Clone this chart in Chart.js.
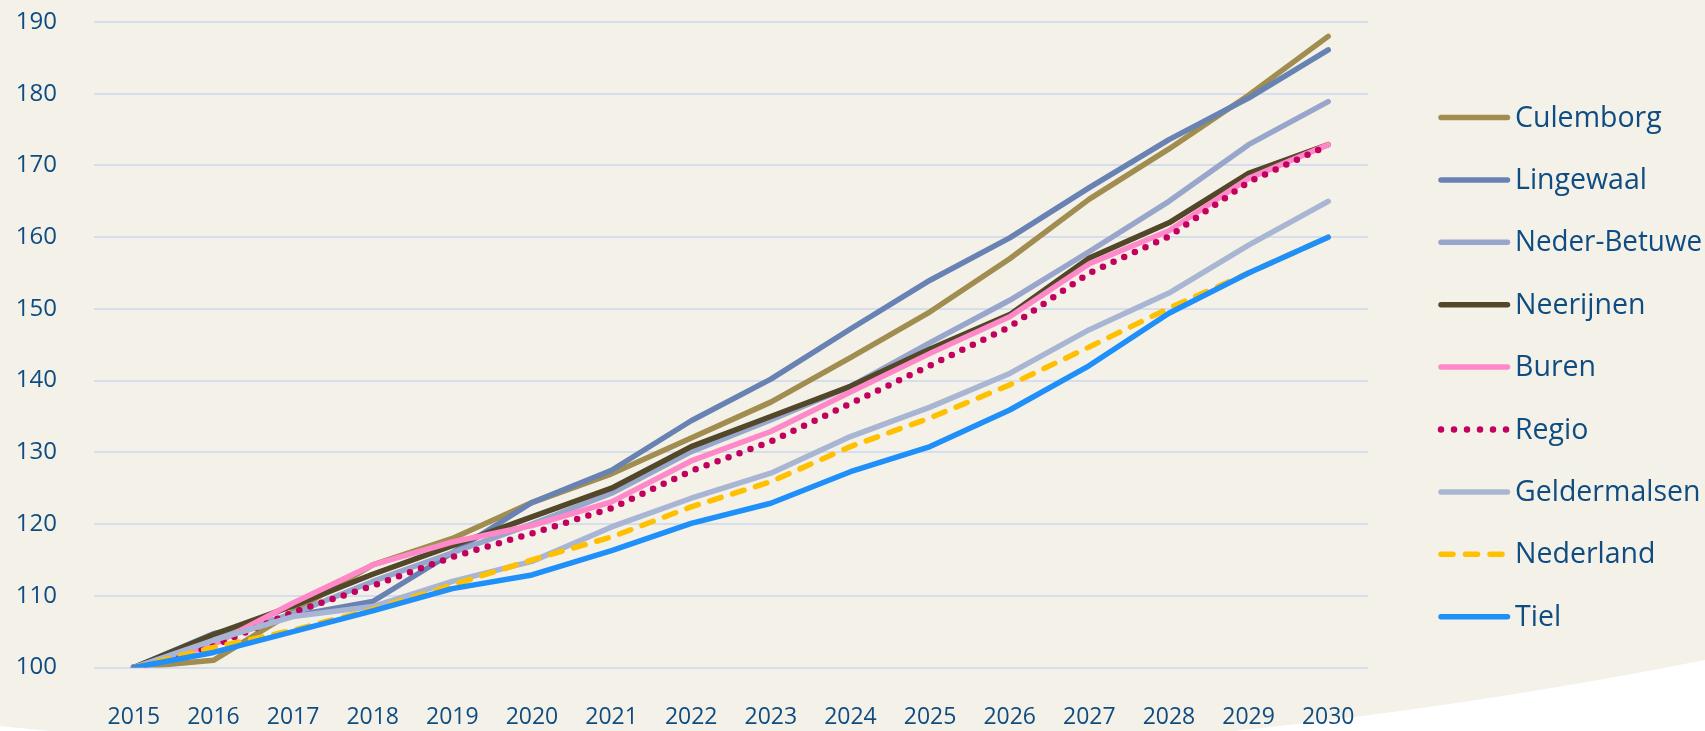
<!DOCTYPE html>
<html>
<head>
<meta charset="utf-8">
<script src="https://cdn.jsdelivr.net/npm/chart.js@4/dist/chart.umd.min.js"></script>
<style>
  html, body { margin: 0; padding: 0; background: #ffffff; }
  #wrap { width: 1705px; height: 731px; position: relative; }
</style>
</head>
<body>
<div id="wrap"><canvas id="c" width="1705" height="731"></canvas></div>
<script>
const years = ['2015','2016','2017','2018','2019','2020','2021','2022','2023','2024','2025','2026','2027','2028','2029','2030'];
const yTicks = [100, 110, 120, 130, 140, 150, 160, 170, 180, 190];

const culemborg    = [100, 101.0, 107.8, 114.3, 118.0, 123.0, 127.0, 132.0, 137.0, 143.2, 149.6, 157.0, 165.3, 172.3, 179.8, 188.0];
const lingewaal    = [100, 104.7, 107.2, 109.2, 116.0, 123.0, 127.5, 134.4, 140.2, 147.2, 154.0, 159.9, 166.9, 173.6, 179.4, 186.1];
const nederBetuwe  = [100, 104.1, 107.5, 112.0, 116.0, 120.0, 124.3, 130.1, 134.5, 139.2, 145.3, 151.2, 158.0, 165.0, 172.9, 178.9];
const neerijnen    = [100, 104.6, 108.6, 113.0, 117.0, 121.0, 125.0, 130.8, 135.0, 139.2, 144.4, 149.2, 157.1, 162.0, 168.9, 172.9];
const buren        = [100, 103.2, 109.0, 114.3, 117.5, 119.8, 123.1, 128.8, 132.9, 138.4, 143.8, 148.9, 156.3, 160.9, 168.2, 172.9];
const regio        = [100, 103.0, 107.7, 111.4, 115.4, 118.7, 122.2, 127.4, 131.5, 136.8, 142.1, 147.5, 155.0, 160.1, 167.7, 172.8];
const geldermalsen = [100, 103.8, 107.1, 108.5, 112.0, 114.8, 119.6, 123.6, 127.1, 132.2, 136.3, 141.0, 147.1, 152.2, 158.9, 165.0];
const nederland    = [100, 102.8, 105.2, 108.1, 111.5, 115.0, 118.2, 122.4, 125.9, 130.8, 134.8, 139.4, 144.7, 150.1, 155.0, 160.0];
const tiel         = [100, 102.1, 105.0, 107.9, 111.0, 112.9, 116.3, 120.1, 122.9, 127.3, 130.8, 135.9, 142.1, 149.4, 155.0, 160.0];

const seriesNames = ['Culemborg','Lingewaal','Neder-Betuwe','Neerijnen','Buren','Regio','Geldermalsen','Nederland','Tiel'];
const seriesData  = [culemborg, lingewaal, nederBetuwe, neerijnen, buren, regio, geldermalsen, nederland, tiel];
const seriesColors = ['#a18d50','#6882b4','#99a6cc','#524829','#ff88c8','#c2005e','#a8b5d3','#ffc000','#1f8ffa'];

const TEXT = '#0f4c81';
const FONT = "'Open Sans', 'Noto Sans', sans-serif";

const datasets = seriesNames.map((name, i) => {
  const ds = {
    label: name,
    data: seriesData[i],
    borderColor: seriesColors[i],
    backgroundColor: seriesColors[i],
    borderWidth: 5.5,
    pointRadius: 0,
    pointHoverRadius: 0,
    tension: 0,
    fill: false,
    borderCapStyle: 'round',
    borderJoinStyle: 'round',
    order: seriesNames.length - i
  };
  if (name === 'Regio') { ds.borderDash = [0, 11.7]; ds.borderWidth = 6.5; }
  if (name === 'Nederland') { ds.borderDash = [12, 12]; }
  return ds;
});

const bgPlugin = {
  id: 'bg',
  beforeDraw(chart) {
    const ctx = chart.ctx;
    ctx.save();
    ctx.fillStyle = '#ffffff';
    ctx.fillRect(0, 0, chart.width, chart.height);
    ctx.fillStyle = '#f4f1e9';
    ctx.beginPath();
    ctx.moveTo(0, 0);
    ctx.lineTo(chart.width, 0);
    ctx.lineTo(chart.width, 660);
    ctx.quadraticCurveTo(900, 820, 0, 726);
    ctx.closePath();
    ctx.fill();
    ctx.restore();
  }
};

const legendPlugin = {
  id: 'sideLegend',
  afterDraw(chart) {
    const ctx = chart.ctx;
    ctx.save();
    const x0 = 1441, x1 = 1507.5, tx = 1515, y0 = 117.5, dy = 62.4;
    chart.data.datasets.forEach((ds, i) => {
      const y = y0 + i * dy;
      ctx.strokeStyle = ds.borderColor;
      ctx.lineWidth = ds.label === 'Regio' ? 6.5 : 5.5;
      ctx.lineCap = 'round';
      if (ds.label === 'Regio') { ctx.setLineDash([0, 13]); }
      else if (ds.label === 'Nederland') { ctx.setLineDash([12, 12.5]); }
      else { ctx.setLineDash([]); }
      ctx.beginPath();
      ctx.moveTo(x0, y);
      ctx.lineTo(ds.label === 'Nederland' ? x1 - 2 : x1, y);
      ctx.stroke();
      ctx.setLineDash([]);
      ctx.fillStyle = TEXT;
      ctx.font = "28.5px " + FONT;
      ctx.textBaseline = 'middle';
      ctx.textAlign = 'left';
      ctx.fillText(ds.label, tx, y + 1, 187);
    });
    ctx.restore();
  }
};

new Chart(document.getElementById('c'), {
  type: 'line',
  data: { labels: years, datasets },
  plugins: [bgPlugin, legendPlugin],
  options: {
    responsive: false,
    animation: false,
    devicePixelRatio: 1,
    layout: { padding: { top: 22, right: 337, bottom: 0, left: 0 } },
    plugins: { legend: { display: false }, tooltip: { enabled: false } },
    scales: {
      x: {
        offset: true,
        grid: { display: false, drawTicks: false },
        border: { display: false },
        afterFit(scale) { scale.height = 63.5; scale.paddingLeft = 0; scale.paddingRight = 0; },
        ticks: { color: TEXT, font: { family: FONT, size: 23 }, padding: 36, maxRotation: 0, autoSkip: false }
      },
      y: {
        min: 100,
        max: 190,
        afterBuildTicks(scale) { scale.ticks = yTicks.map(v => ({ value: v })); },
        afterFit(scale) { scale.width = 94; scale.paddingTop = 0; scale.paddingBottom = 0; },
        grid: { color: '#d6ddec', lineWidth: 2, drawTicks: false },
        border: { display: false },
        ticks: { color: TEXT, font: { family: FONT, size: 24 }, padding: 37 }
      }
    }
  }
});
</script>
</body>
</html>
